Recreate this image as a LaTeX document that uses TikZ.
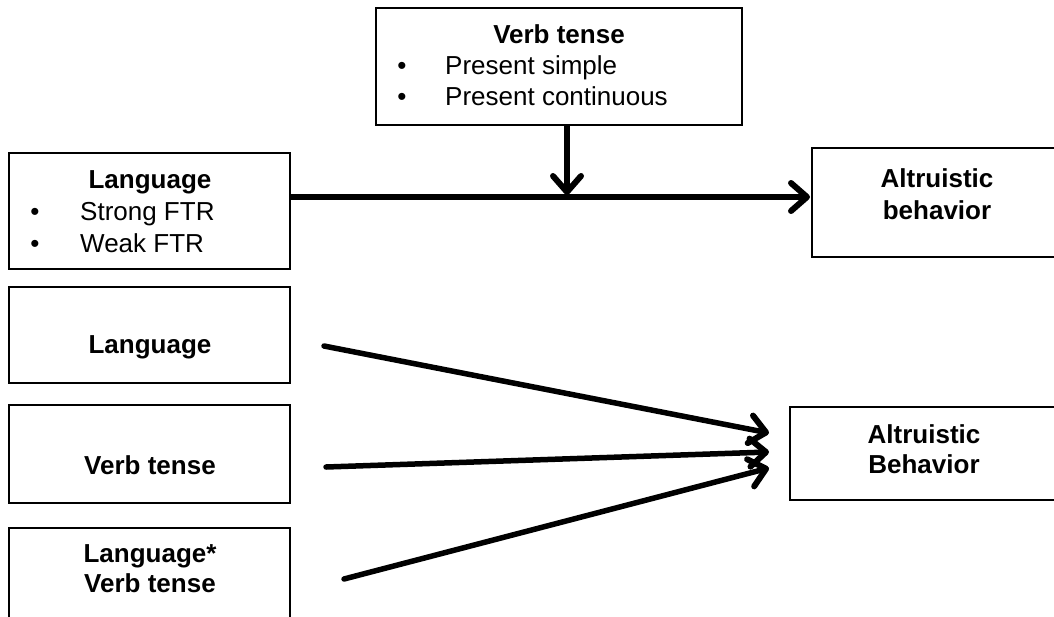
\documentclass[tikz,border=0pt]{standalone}
\usepackage{fontspec}
\setmainfont{Liberation Sans}
\usetikzlibrary{arrows.meta}
\begin{document}
\begin{tikzpicture}[x=1pt,y=-1pt,
  box/.style={draw, line width=2.2pt, inner sep=0pt, fill=white},
  txt/.style={anchor=base, inner sep=0pt, font=\fontsize{26}{31}\selectfont},
  ltxt/.style={txt, anchor=base west},
  btxt/.style={anchor=base, inner sep=0pt, font=\fontsize{26}{31}\selectfont\bfseries},
  conn/.style={line width=5.5pt, line cap=round, -{Straight Barb[length=16pt,width=28pt,line width=6pt,round]}}]
\useasboundingbox (0,0) rectangle (1054,616);
\clip (0,0) rectangle (1054,616);

% boxes
\node[box, minimum width=366pt, minimum height=117pt] (top) at (559,66.5) {};
\node[box, minimum width=281pt, minimum height=116pt] (lang1) at (149.5,211) {};
\node[box, minimum width=258pt, minimum height=109pt] (alt1) at (941,202.5) {};
\node[box, minimum width=281pt, minimum height=96pt] (lang2) at (149.5,335) {};
\node[box, minimum width=281pt, minimum height=98pt] (verb) at (149.5,454) {};
\node[box, minimum width=281pt, minimum height=102pt] (inter) at (149.5,579) {};
\node[box, minimum width=280pt, minimum height=93pt] (alt2) at (930,453.5) {};

% texts
\node[btxt] (t1) at (559,43) {Verb tense};
\node[txt] (b1) at (402,74) {•};
\node[txt] (b2) at (402,105) {•};
\node[ltxt] (t2) at (445,74) {Present simple};
\node[ltxt] (t3) at (445,105) {Present continuous};

\node[btxt] (t4) at (150,188) {Language};
\node[txt] (b3) at (35,220) {•};
\node[txt] (b4) at (35,252) {•};
\node[ltxt] (t5) at (80,220) {Strong FTR};
\node[ltxt] (t6) at (80,252) {Weak FTR};

\node[btxt] (t7) at (937,187) {Altruistic};
\node[btxt] (t8) at (937,219) {behavior};

\node[btxt] (t9) at (150,353) {Language};
\node[btxt] (t10) at (150,474) {Verb tense};
\node[btxt] (t11) at (150,562) {Language*};
\node[btxt] (t12) at (150,592) {Verb tense};

\node[btxt] (t13) at (924,443) {Altruistic};
\node[btxt] (t14) at (924,473) {Behavior};

% connector end points
\coordinate (hs) at (290,197);
\coordinate (he) at (810,197);
\coordinate (vs) at (567,125);
\coordinate (ve) at (567,195);
\coordinate (a1s) at (324,346);
\coordinate (a1e) at (769,433);
\coordinate (a2s) at (326,467);
\coordinate (a2e) at (769,452);
\coordinate (a3s) at (344,579);
\coordinate (a3e) at (769,468);

% connectors
\draw[conn, line cap=butt] (hs) -- (he);
\draw[conn, line cap=butt] (vs) -- (ve);
\draw[conn] (a1s) -- (a1e);
\draw[conn] (a2s) -- (a2e);
\draw[conn] (a3s) -- (a3e);
\end{tikzpicture}
\end{document}
